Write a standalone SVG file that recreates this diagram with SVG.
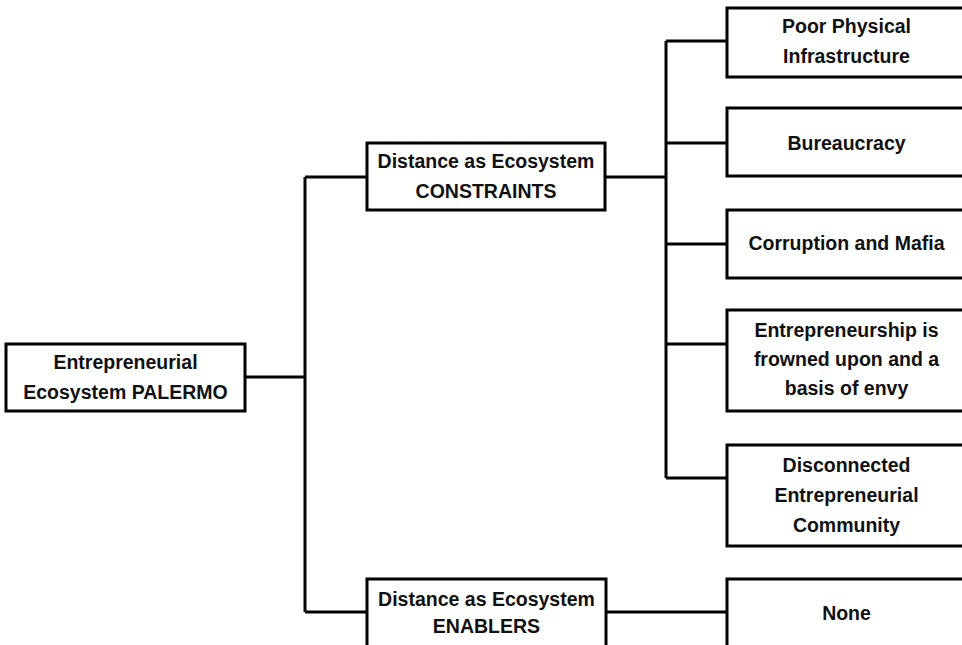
<svg xmlns="http://www.w3.org/2000/svg" width="962" height="645" viewBox="0 0 962 645">
<style>
.box{fill:#fff;stroke:#000;stroke-width:3}
.ln{fill:none;stroke:#000;stroke-width:3}
text{font-family:"Liberation Sans",Arial,sans-serif;font-weight:bold;font-size:19.5px;fill:#111;text-anchor:middle}
</style>
<rect width="962" height="645" fill="#fff"/>
<g id="connectors">
<path class="ln" d="M245 377H305M305 177V612M305 177H367M305 612H367"/>
<path class="ln" d="M605 177H666M666 41V478M666 41H727M666 143H727M666 244H727M666 344H727M666 478H727"/>
<path class="ln" d="M606 612H727"/>
</g>
<g id="root"><rect class="box" x="6" y="344" width="239" height="67"/><text x="125.5" y="369">Entrepreneurial</text><text x="125.5" y="399">Ecosystem PALERMO</text></g>
<g id="constraints"><rect class="box" x="367" y="143" width="238" height="67"/><text x="486" y="168">Distance as Ecosystem</text><text x="486" y="198">CONSTRAINTS</text></g>
<g id="enablers"><rect class="box" x="367" y="579" width="239" height="68"/><text x="486.5" y="606">Distance as Ecosystem</text><text x="486.5" y="633">ENABLERS</text></g>
<g id="infra"><rect class="box" x="727" y="8" width="239" height="69"/><text x="846.5" y="33">Poor Physical</text><text x="846.5" y="63">Infrastructure</text></g>
<g id="bureaucracy"><rect class="box" x="727" y="108" width="239" height="68"/><text x="846.5" y="150">Bureaucracy</text></g>
<g id="corruption"><rect class="box" x="727" y="210" width="239" height="68"/><text x="846.5" y="250">Corruption and Mafia</text></g>
<g id="envy"><rect class="box" x="727" y="310" width="239" height="101"/><text x="846.5" y="337">Entrepreneurship is</text><text x="846.5" y="366">frowned upon and a</text><text x="846.5" y="395">basis of envy</text></g>
<g id="disconnected"><rect class="box" x="727" y="445" width="239" height="101"/><text x="846.5" y="472">Disconnected</text><text x="846.5" y="502">Entrepreneurial</text><text x="846.5" y="532">Community</text></g>
<g id="none"><rect class="box" x="727" y="579" width="239" height="70"/><text x="846.5" y="620">None</text></g>
</svg>
